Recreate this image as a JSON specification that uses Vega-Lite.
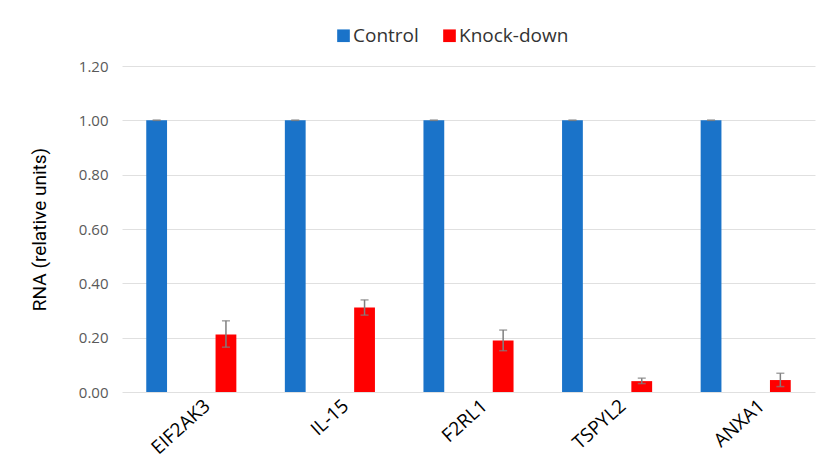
{
  "$schema": "https://vega.github.io/schema/vega-lite/v6.json",
  "autosize": {"type": "none"},
  "padding": {"left": 122, "top": 66, "right": 8, "bottom": 69},
  "width": 693,
  "height": 326,
  "background": "white",
  "config": {
    "view": {"stroke": null},
    "font": "Open Sans"
  },
  "data": {
    "values": [
      {"gene": "EIF2AK3", "group": "Control", "value": 1.0, "lo": 1.0, "hi": 1.0},
      {"gene": "EIF2AK3", "group": "Knock-down", "value": 0.212, "lo": 0.165, "hi": 0.262},
      {"gene": "IL-15", "group": "Control", "value": 1.0, "lo": 1.0, "hi": 1.0},
      {"gene": "IL-15", "group": "Knock-down", "value": 0.311, "lo": 0.283, "hi": 0.339},
      {"gene": "F2RL1", "group": "Control", "value": 1.0, "lo": 1.0, "hi": 1.0},
      {"gene": "F2RL1", "group": "Knock-down", "value": 0.19, "lo": 0.152, "hi": 0.228},
      {"gene": "TSPYL2", "group": "Control", "value": 1.0, "lo": 1.0, "hi": 1.0},
      {"gene": "TSPYL2", "group": "Knock-down", "value": 0.04, "lo": 0.031, "hi": 0.051},
      {"gene": "ANXA1", "group": "Control", "value": 1.0, "lo": 1.0, "hi": 1.0},
      {"gene": "ANXA1", "group": "Knock-down", "value": 0.044, "lo": 0.02, "hi": 0.069}
    ]
  },
  "encoding": {
    "x": {
      "field": "gene",
      "type": "nominal",
      "sort": null,
      "scale": {"paddingInner": 0, "paddingOuter": 0},
      "axis": {
        "title": null,
        "labelAngle": -42,
        "labelFontSize": 19,
        "labelColor": "#000000",
        "labelFont": "Open Sans",
        "domain": false,
        "ticks": false,
        "labelPadding": 4,
        "labelOffset": 10
      }
    },
    "xOffset": {
      "field": "group",
      "type": "nominal",
      "sort": ["Control", "Knock-down"],
      "scale": {"paddingInner": 0.7, "paddingOuter": 0.35}
    }
  },
  "layer": [
    {
      "mark": {"type": "bar"},
      "encoding": {
        "y": {
          "field": "value",
          "type": "quantitative",
          "scale": {"domain": [0, 1.2], "nice": false},
          "axis": {
            "values": [0, 0.2, 0.4, 0.6, 0.8, 1.0, 1.2],
            "format": ".2f",
            "title": "RNA (relative units)",
            "titleFont": "Roboto, sans-serif",
            "titleFontSize": 19,
            "titleFontWeight": "normal",
            "titleColor": "#000000",
            "titlePadding": 29,
            "labelFontSize": 15,
            "labelColor": "#595959",
            "labelPadding": 14,
            "domain": false,
            "ticks": false,
            "gridColor": "#e0e0e0",
            "gridWidth": 1
          }
        },
        "color": {
          "field": "group",
          "type": "nominal",
          "scale": {"domain": ["Control", "Knock-down"], "range": ["#1A73C9", "#FF0000"]},
          "legend": {
            "title": null,
            "orient": "none",
            "direction": "horizontal",
            "legendX": 212,
            "legendY": -40,
            "symbolType": "square",
            "symbolSize": 160,
            "symbolStrokeWidth": 0,
            "labelFontSize": 19,
            "labelColor": "#333333",
            "labelFont": "Open Sans",
            "labelOffset": 0,
            "columnPadding": 21
          }
        }
      }
    },
    {
      "mark": {"type": "rule", "color": "#7f7f7f", "strokeWidth": 1.5},
      "encoding": {
        "y": {"field": "lo", "type": "quantitative"},
        "y2": {"field": "hi"}
      }
    },
    {
      "mark": {"type": "tick", "color": "#7f7f7f", "thickness": 1.5, "size": 8, "orient": "horizontal"},
      "encoding": {
        "y": {"field": "lo", "type": "quantitative"}
      }
    },
    {
      "mark": {"type": "tick", "color": "#7f7f7f", "thickness": 1.5, "size": 8, "orient": "horizontal"},
      "encoding": {
        "y": {"field": "hi", "type": "quantitative"}
      }
    }
  ]
}
